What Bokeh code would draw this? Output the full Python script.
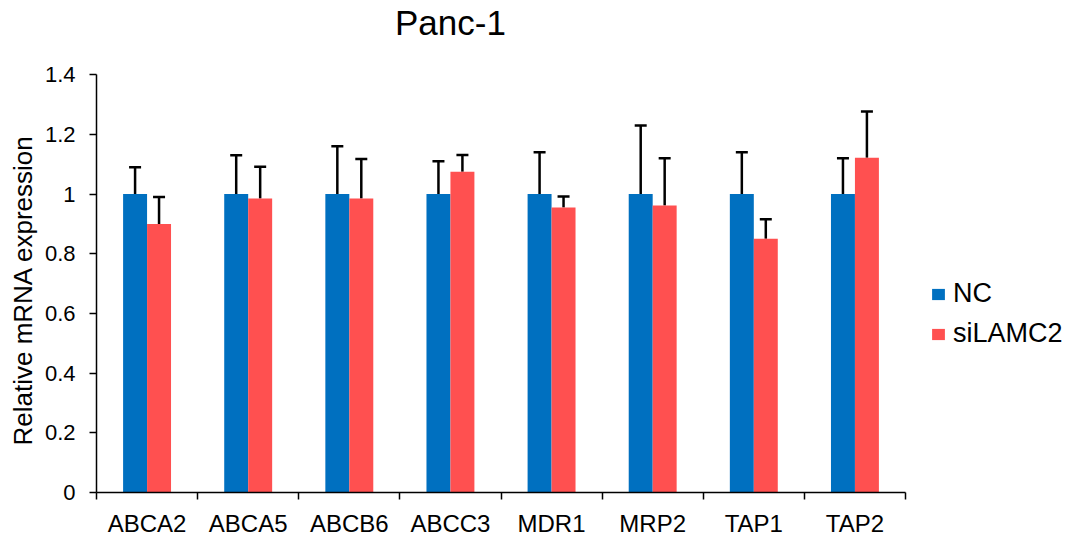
from bokeh.plotting import figure
from bokeh.models import (Range1d, FixedTicker, NumeralTickFormatter, ColumnDataSource,
                          Whisker, TeeHead, Legend, LegendItem, LinearAxis, Label, Title)
from bokeh.embed import file_html
from bokeh.resources import INLINE

genes = ["ABCA2", "ABCA5", "ABCB6", "ABCC3", "MDR1", "MRP2", "TAP1", "TAP2"]
nc_vals = [1.0, 1.0, 1.0, 1.0, 1.0, 1.0, 1.0, 1.0]
nc_err = [0.09, 0.13, 0.16, 0.11, 0.14, 0.23, 0.14, 0.12]
si_vals = [0.90, 0.985, 0.985, 1.075, 0.955, 0.962, 0.85, 1.122]
si_err = [0.09, 0.107, 0.133, 0.056, 0.037, 0.158, 0.066, 0.155]
y_ticks = [0, 0.2, 0.4, 0.6, 0.8, 1.0, 1.2, 1.4]
series_names = ["NC", "siLAMC2"]
title_text = "Panc-1"
y_label = "Relative mRNA expression"

FONT = "Liberation Sans"
BLUE = "#0070C0"
RED = "#FF5050"
BW = 0.237
n = len(genes)
centers = [i + 0.5 for i in range(n)]

# layout (pixels): axes span x 96..905, y 75..497 inside a frame spanning x 96..1067, y 0..497
W, H = 1067, 539
LEFT, BOTTOM_PX = 96, 497
AX_RIGHT, AX_TOP = 905, 75
YMAX = 1.4
x_end = n * (W - LEFT) / (AX_RIGHT - LEFT)
y_end = YMAX * BOTTOM_PX / (BOTTOM_PX - AX_TOP)

p = figure(width=W, height=H, output_backend="svg", toolbar_location=None,
           x_range=Range1d(0, x_end), y_range=Range1d(0, y_end),
           min_border_left=LEFT, min_border_right=0, min_border_top=0, min_border_bottom=H - BOTTOM_PX,
           x_axis_type=None, y_axis_type=None)
p.outline_line_color = None
p.xgrid.visible = False
p.ygrid.visible = False

src_nc = ColumnDataSource(dict(x=[c - BW / 2 for c in centers], top=nc_vals,
                               upper=[v + e for v, e in zip(nc_vals, nc_err)]))
src_si = ColumnDataSource(dict(x=[c + BW / 2 for c in centers], top=si_vals,
                               upper=[v + e for v, e in zip(si_vals, si_err)]))

r_nc = p.vbar(x="x", top="top", bottom=0, width=BW, source=src_nc, fill_color=BLUE, line_color=None)
r_si = p.vbar(x="x", top="top", bottom=0, width=BW, source=src_si, fill_color=RED, line_color=None)

for src in (src_nc, src_si):
    w = Whisker(source=src, base="x", lower="top", upper="upper", dimension="height",
                line_color="black", line_width=2.5,
                upper_head=TeeHead(size=12, line_color="black", line_width=2.5),
                lower_head=None)
    p.add_layout(w)

yax = LinearAxis(ticker=FixedTicker(ticks=y_ticks), formatter=NumeralTickFormatter(format="0.[0]"),
                 bounds=(0, YMAX))
yax.major_label_text_font = FONT
yax.major_label_text_font_size = "22px"
yax.major_label_text_color = "black"
yax.major_label_standoff = 14
yax.major_tick_out = 7
yax.major_tick_in = 0
yax.major_tick_line_width = 1.5
yax.minor_tick_line_color = None
yax.axis_line_width = 1.5
p.add_layout(yax, "left")

ytitle = Title(text=y_label, align="left", offset=47, standoff=8,
               text_font=FONT, text_font_size="26px", text_font_style="normal", text_color="black")
p.add_layout(ytitle, "left")

xax = LinearAxis(ticker=FixedTicker(ticks=centers, minor_ticks=list(range(n + 1))), bounds=(0, n))
xax.major_label_overrides = {c: g for c, g in zip(centers, genes)}
xax.major_label_text_font = FONT
xax.major_label_text_font_size = "24px"
xax.major_label_text_color = "black"
xax.major_label_standoff = 10
xax.major_tick_out = 0
xax.major_tick_in = 0
xax.minor_tick_out = 7
xax.minor_tick_in = 0
xax.minor_tick_line_color = "black"
xax.minor_tick_line_width = 1.5
xax.axis_line_width = 1.5
p.add_layout(xax, "below")

p.add_layout(Label(x=3.5, y=1.576, text=title_text, text_align="center", text_baseline="middle",
                   text_font=FONT, text_font_size="35px", text_color="black"))

legend = Legend(items=[LegendItem(label=series_names[0], renderers=[r_nc]),
                       LegendItem(label=series_names[1], renderers=[r_si])],
                location=(834, 143), orientation="vertical",
                glyph_width=16, glyph_height=14, label_standoff=7, spacing=9,
                padding=0, margin=0, border_line_color=None, background_fill_alpha=0,
                label_text_font=FONT, label_text_font_size="27px", label_text_color="black")
p.add_layout(legend)

open("out.html", "w").write(file_html(p, INLINE))
